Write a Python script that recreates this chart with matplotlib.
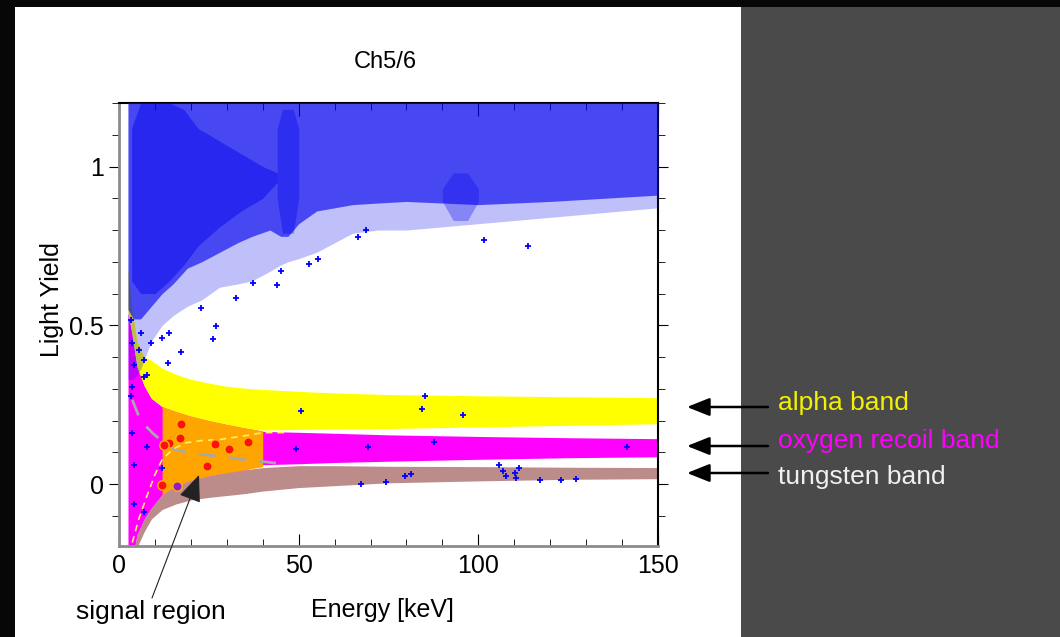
import numpy as np
import matplotlib.pyplot as plt
from matplotlib.patches import Rectangle

# band edges (energy in keV, light yield)
band_E = [2.5, 3.5, 5, 7, 9, 12, 16, 20, 25, 30, 35, 40, 50, 60, 75, 100, 125, 150]
alpha_hi = [0.68, 0.56, 0.45, 0.40, 0.39, 0.365, 0.345, 0.33, 0.318, 0.308, 0.302, 0.298, 0.292, 0.287, 0.282, 0.278, 0.275, 0.272]
alpha_lo = [0.54, 0.48, 0.37, 0.31, 0.27, 0.244, 0.228, 0.214, 0.200, 0.188, 0.177, 0.170, 0.172, 0.174, 0.175, 0.180, 0.185, 0.190]
oxy_hi = [0.54, 0.48, 0.37, 0.31, 0.27, 0.244, 0.228, 0.214, 0.200, 0.188, 0.177, 0.166, 0.163, 0.160, 0.155, 0.150, 0.146, 0.143]
oxy_lo = [-0.25, -0.25, -0.16, -0.11, -0.075, -0.033, -0.005, 0.012, 0.026, 0.036, 0.045, 0.061, 0.064, 0.068, 0.072, 0.078, 0.083, 0.086]
tung_hi = [-0.25, -0.25, -0.16, -0.11, -0.075, -0.033, -0.005, 0.012, 0.026, 0.036, 0.045, 0.052, 0.058, 0.058, 0.056, 0.055, 0.053, 0.052]
tung_lo = [-0.25, -0.25, -0.2, -0.15, -0.11, -0.08, -0.062, -0.05, -0.042, -0.036, -0.03, -0.022, -0.011, -0.005, 0.004, 0.010, 0.015, 0.017]

# signal region (orange)
sig_reg_E = [12, 16, 20, 25, 30, 35, 40]
sig_reg_hi = [0.244, 0.228, 0.214, 0.200, 0.188, 0.177, 0.168]
sig_reg_lo = [-0.033, -0.005, 0.012, 0.026, 0.036, 0.045, 0.055]

# dashed reference lines
gray_E = [3.7, 6, 9.3, 12, 15.8, 20, 27.9, 35, 43.7]
gray_LY = [0.265, 0.2, 0.161, 0.135, 0.108, 0.098, 0.087, 0.077, 0.066]
ydash_E = [3.7, 5.5, 7.4, 10, 12, 15, 18.6, 23, 27.9, 35, 40, 46.5]
ydash_LY = [-0.184, -0.11, -0.049, 0.03, 0.077, 0.11, 0.13, 0.137, 0.14, 0.152, 0.162, 0.162]

# electron/gamma band (blue cloud): lower edges of sparse and dense part
cloud_E = [2.5, 4, 6, 9, 12, 15, 19, 23, 28, 33, 37, 42, 45, 47, 50, 55, 60, 65, 72, 80, 90, 100, 110, 120, 135, 150]
cloud_sparse_lo = [0.33, 0.33, 0.36, 0.45, 0.50, 0.53, 0.56, 0.58, 0.62, 0.63, 0.64, 0.67, 0.69, 0.70, 0.71, 0.73, 0.76, 0.79, 0.80, 0.80, 0.81, 0.82, 0.83, 0.84, 0.855, 0.87]
cloud_dense_lo = [0.55, 0.52, 0.52, 0.56, 0.60, 0.63, 0.68, 0.70, 0.73, 0.76, 0.78, 0.80, 0.78, 0.78, 0.82, 0.86, 0.87, 0.88, 0.885, 0.89, 0.885, 0.88, 0.885, 0.89, 0.90, 0.91]
core_E = [3.5, 6, 10, 14, 18, 22, 28, 34, 40, 44]
core_lo = [0.64, 0.60, 0.60, 0.64, 0.69, 0.75, 0.81, 0.86, 0.90, 0.95]
core_hi = [1.12, 1.2, 1.2, 1.2, 1.18, 1.12, 1.08, 1.04, 1.0, 0.98]
stripe_E = [44, 45.5, 48.5, 50]
stripe_lo = [0.9, 0.79, 0.79, 0.9]
stripe_hi = [1.12, 1.18, 1.18, 1.12]
patch_E = [90, 93, 97, 100]
patch_lo = [0.89, 0.83, 0.83, 0.89]
patch_hi = [0.93, 0.98, 0.98, 0.93]

# isolated events
iso_E = [50.6, 49.3, 69.2, 67.4, 74.4, 79.5, 81.3, 17.2, 26.2, 13.7, 3.7, 4.2, 7.8, 7.0, 4.2, 27.0,
         85.2, 84.3, 95.7, 87.8, 141.4, 105.7, 107.0, 107.6, 110.1, 111.3, 110.4, 117.1, 123.1, 127.3,
         113.8, 101.5, 66.4, 68.8, 44.1, 45.0, 37.2, 22.8, 32.5, 55.3, 53.0, 12.0,
         3.3, 3.5, 4.2, 3.7, 3.3, 5.6, 7.0, 7.9, 7.0, 6.0, 8.8, 12.1, 13.9]
iso_LY = [0.231, 0.111, 0.116, 0.0, 0.006, 0.025, 0.033, 0.416, 0.457, 0.382, 0.162, 0.059, 0.116, -0.088, -0.064, 0.498,
          0.278, 0.237, 0.218, 0.131, 0.116, 0.061, 0.04, 0.027, 0.035, 0.051, 0.019, 0.014, 0.014, 0.017,
          0.75, 0.77, 0.778, 0.799, 0.626, 0.67, 0.632, 0.553, 0.585, 0.708, 0.694, 0.052,
          0.516, 0.444, 0.375, 0.307, 0.276, 0.422, 0.39, 0.344, 0.338, 0.475, 0.443, 0.459, 0.475]

# candidate events in the signal region
sig_E = [17.2, 16.9, 13.8, 12.5, 26.7, 30.7, 35.9, 24.4, 12.1]
sig_LY = [0.19, 0.145, 0.129, 0.124, 0.125, 0.11, 0.134, 0.058, -0.003]
odd_E = [16.1]
odd_LY = [-0.005]

fig = plt.figure(figsize=(10.6, 6.37), dpi=100, facecolor='#070707')
W, H = 1060, 637
fig.add_artist(Rectangle((15 / W, 0), (741 - 15) / W, 630 / H, transform=fig.transFigure,
                         facecolor='white', edgecolor='none', zorder=-2))
fig.add_artist(Rectangle((741 / W, 0), (W - 741) / W, 630 / H, transform=fig.transFigure,
                         facecolor='#4a4a4a', edgecolor='none', zorder=-2))

ax = fig.add_axes([119 / W, 1 - 546 / H, (658 - 119) / W, (546 - 103) / H])
ax.set_facecolor('white')

ax.fill_between(band_E, tung_lo, tung_hi, color='#bc8c8a', lw=0, zorder=1)
ax.fill_between(band_E, oxy_lo, oxy_hi, color='#ff00ff', lw=0, zorder=1)
ax.fill_between(band_E, alpha_lo, alpha_hi, color='#ffff00', lw=0, zorder=1)
ax.fill_between(sig_reg_E, sig_reg_lo, sig_reg_hi, color='#ffa500', lw=0, zorder=2)

ax.plot(gray_E, gray_LY, color='#a8a8a8', lw=2, ls=(0, (6, 5)), zorder=3)
ax.plot(ydash_E, ydash_LY, color='#ffee66', lw=1.2, ls=(0, (4, 3)), zorder=3)

top = [1.25] * len(cloud_E)
ax.fill_between(cloud_E, cloud_sparse_lo, top, color='#0000ee', alpha=0.25, lw=0, zorder=4)
ax.fill_between(cloud_E, cloud_dense_lo, top, color='#0000ee', alpha=0.62, lw=0, zorder=4)
ax.fill_between(core_E, core_lo, core_hi, color='#0000ee', alpha=0.45, lw=0, zorder=4)
ax.fill_between(stripe_E, stripe_lo, stripe_hi, color='#0000ee', alpha=0.35, lw=0, zorder=4)
ax.fill_between(patch_E, patch_lo, patch_hi, color='#0000ee', alpha=0.3, lw=0, zorder=4)

ax.plot(iso_E, iso_LY, '+', color='#0000ff', ms=5, mew=1.3, zorder=5)
ax.scatter(sig_E, sig_LY, s=45, color='#ff1010', edgecolors='#ffb000', linewidths=1, zorder=6)
ax.scatter(odd_E, odd_LY, s=45, color='#9020c0', edgecolors='#ffb000', linewidths=1, zorder=6)

ax.set_xlim(0, 150)
ax.set_ylim(-0.195, 1.2)
ax.set_xticks([0, 50, 100, 150])
ax.set_xticks(np.arange(0, 151, 10), minor=True)
ax.set_yticks([0, 0.5, 1])
ax.set_yticklabels(['0', '0.5', '1'])
ax.set_yticks(np.arange(-0.1, 1.21, 0.1), minor=True)
ax.tick_params(axis='x', which='both', direction='in', top=True, bottom=True, pad=6,
               labelsize=18, color='black')
ax.tick_params(axis='x', which='major', length=9)
ax.tick_params(axis='x', which='minor', length=5)
ax.tick_params(axis='y', which='both', direction='out', left=True, right=True, pad=4,
               labelsize=18)
ax.tick_params(axis='y', which='major', length=7)
ax.tick_params(axis='y', which='minor', length=5)
for lab in ax.get_xticklabels() + ax.get_yticklabels():
    lab.set_family('Liberation Sans')
ax.spines['left'].set_color('#8c8c8c')
ax.spines['bottom'].set_color('#8c8c8c')
ax.spines['left'].set_linewidth(2)
ax.spines['bottom'].set_linewidth(2)
ax.spines['top'].set_linewidth(1.5)
ax.spines['right'].set_linewidth(1.5)

fig.text(385 / W, 1 - 62 / H, 'Ch5/6', ha='center', va='center', fontsize=17, family='Liberation Sans')
fig.text(52 / W, 1 - 300 / H, 'Light Yield', ha='center', va='center', rotation=90,
         fontsize=18, family='Liberation Sans')
fig.text(382 / W, 1 - 610 / H, 'Energy [keV]', ha='center', va='center', fontsize=18, family='Liberation Sans')
fig.text(151 / W, 1 - 612 / H, 'signal region', ha='center', va='center', fontsize=19,
         family='Liberation Sans')

labels = ['alpha band', 'oxygen recoil band', 'tungsten band']
label_colors = ['#f2f200', '#ff00ff', '#f0f0f0']
label_y = [403, 441, 477]
arrow_y = [407, 446, 473]
for txt, c, ty, ay in zip(labels, label_colors, label_y, arrow_y):
    fig.text(778 / W, 1 - ty / H, txt, ha='left', va='center', fontsize=19,
             color=c, family='Liberation Sans')
    ax.annotate('', xy=(687, H - ay), xytext=(768, H - ay), xycoords='figure pixels',
                textcoords='figure pixels', annotation_clip=False,
                arrowprops=dict(arrowstyle='-|>,head_length=0.55,head_width=0.22',
                                mutation_scale=25, color='black', lw=1.8,
                                shrinkA=0, shrinkB=0))

ax.annotate('', xy=(199, H - 475), xytext=(152, H - 598), xycoords='figure pixels',
            textcoords='figure pixels', annotation_clip=False,
            arrowprops=dict(arrowstyle='-|>,head_length=0.6,head_width=0.25',
                            mutation_scale=28, color='#222222', lw=0.8,
                            shrinkA=0, shrinkB=0))

fig.savefig('out.png', dpi=100, facecolor=fig.get_facecolor())
